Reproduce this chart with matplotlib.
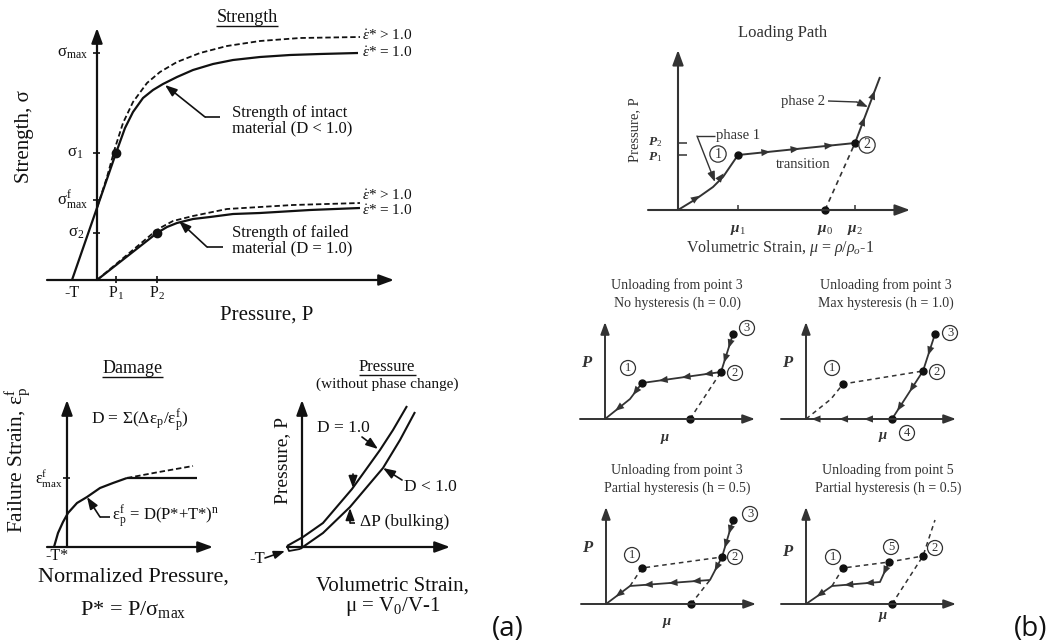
import matplotlib
matplotlib.use("Agg")
import matplotlib.pyplot as plt

plt.rcParams['font.family'] = ['Liberation Serif', 'DejaVu Serif']
plt.rcParams['mathtext.fontset'] = 'custom'
plt.rcParams['mathtext.rm'] = 'Liberation Serif'
plt.rcParams['mathtext.it'] = 'Liberation Serif:italic'
plt.rcParams['mathtext.bf'] = 'Liberation Serif:bold'

W, H = 1056, 644
K = '#111111'
G = '#333333'

# ---------------- data (schematic values) ----------------
# Strength panel
str_T = 25
str_P1, str_P2 = 19, 60
str_sig_max, str_sig1, str_sig_fmax, str_sig2 = 227, 127, 80, 47
intact_P = [-25, 19, 28, 36, 46, 56, 66, 80, 96, 116, 136, 163, 193, 223, 261]
intact_sig = [0, 127, 152, 168, 182, 190, 196, 203, 210, 216, 220, 223, 225, 226, 227]
intact_fast_P = [0, 10, 18, 26, 36, 50, 63, 80, 103, 130, 163, 203, 263]
intact_fast_sig = [72, 103, 132, 157, 178, 197, 208, 218, 227, 234, 239, 242, 243]
failed_P = [0, 60, 70, 80, 96, 113, 136, 163, 213, 263]
failed_sig = [0, 47, 53, 57, 61, 63, 66, 67, 70, 72]
failed_fast_P = [0, 55, 63, 76, 96, 130, 163, 196, 263]
failed_fast_sig = [0, 46, 52, 59, 64, 71, 73, 75, 77]

# Damage panel
dmg_T = 13
dmg_eps_max = 69
dmg_P = [-13, -9, -4, 1, 10, 20, 33, 46, 60]
dmg_eps = [0, 14, 25, 34, 44, 50, 59, 64, 69]
dmg_flat_P = [60, 130]
dmg_fast_P = [60, 92, 126]
dmg_fast_eps = [69, 75, 81]

# Pressure (EOS) panel
eos_D1_mu = [-15, 1, 21, 50, 78, 91, 105]
eos_D1_P = [1, 10, 24, 58, 97, 117, 141]
eos_Dlt1_mu = [-2, 21, 48, 81, 98, 113]
eos_Dlt1_P = [-2, 14, 40, 79, 107, 135]

# Loading path panel
lp_phase1_mu = [0, 18, 35, 45, 60]
lp_phase1_P = [0, 11, 23, 33, 55]
lp_mu1, lp_mu0, lp_mu2 = 60, 147, 177
lp_P1, lp_P2 = 55, 67
lp_top = (202, 133)

# Unloading panels: points (mu, P)
tl_pts = {'1': (37, 36), '2': (116, 47), '3': (128, 85), 'mu0': (85, 0), 'bend': (25, 20)}
tr_pts = {'1': (37, 35), '2': (117, 48), '3': (129, 85), '4': (86, 0), 'bend': (25, 20)}
bl_pts = {'1': (36, 36), '2': (116, 47), '3': (127, 84), 'mu0': (85, 0), 'a': (104, 24), 'b': (24, 18)}
br_pts = {'1': (37, 36), '5': (83, 42), '2': (117, 48), 'mu0': (86, 0), 'top': (129, 84),
          'a': (74, 22), 'b': (26, 18)}

fig = plt.figure(figsize=(W / 100, H / 100), dpi=100)


def panel(ox, oy, left, right, down, up):
    ax = fig.add_axes([(ox - left) / W, (H - oy - down) / H, (left + right) / W, (down + up) / H])
    ax.set_xlim(-left, right)
    ax.set_ylim(-down, up)
    ax.axis('off')
    return ax


def line(ax, xs, ys, lw=1.5, ls='-', c=K):
    ax.plot(xs, ys, color=c, lw=lw, ls=ls, clip_on=False, solid_capstyle='butt',
            solid_joinstyle='round')


def seg(ax, a, b, **kw):
    line(ax, [a[0], b[0]], [a[1], b[1]], **kw)


def arrow(ax, start, end, lw=1.5, c=K, hl=0.6, hw=0.22, ms=15):
    ax.annotate('', xy=end, xytext=start,
                arrowprops=dict(arrowstyle=f'-|>,head_length={hl},head_width={hw}', lw=lw,
                                color=c, mutation_scale=ms, shrinkA=0, shrinkB=0),
                annotation_clip=False)


def heads(ax, a, b, fracs, c=G, ms=8):
    dx, dy = b[0] - a[0], b[1] - a[1]
    n = (dx * dx + dy * dy) ** 0.5
    ux, uy = dx / n, dy / n
    for f in fracs:
        x, y = a[0] + dx * f, a[1] + dy * f
        ax.annotate('', xy=(x + ux * 3, y + uy * 3), xytext=(x - ux * 3, y - uy * 3),
                    arrowprops=dict(arrowstyle='-|>,head_length=0.8,head_width=0.32', lw=0.01,
                                    color=c, mutation_scale=ms, shrinkA=0, shrinkB=0),
                    annotation_clip=False)


def circ(ax, xy, s, fs=9, c=G):
    ax.text(xy[0], xy[1], s, ha='center', va='center', fontsize=fs, color=c,
            bbox=dict(boxstyle='circle,pad=0.12', fc='white', ec=c, lw=0.9))


def dot(ax, xy, c=K, ms=5):
    ax.plot([xy[0]], [xy[1]], 'o', ms=ms, color=c, clip_on=False)


# ============================ (a) Strength ============================
ax = panel(97, 280, 97, 420, 50, 280)
arrow(ax, (0, 0), (0, 252), lw=1.6)
arrow(ax, (-50, 0), (297, 0), lw=1.6)
for s in [str_sig_max, str_sig1, str_sig_fmax, str_sig2]:
    line(ax, [-4, 3], [s, s], lw=1.2)
for p in [str_P1, str_P2]:
    line(ax, [p, p], [-3, 4], lw=1.2)
line(ax, intact_P, intact_sig, lw=1.6)
line(ax, intact_fast_P, intact_fast_sig, lw=1.3, ls=(0, (3, 1.6)))
line(ax, failed_P, failed_sig, lw=1.6)
line(ax, failed_fast_P, failed_fast_sig, lw=1.3, ls=(0, (3, 1.6)))
dot(ax, (str_P1, str_sig1), ms=6)
dot(ax, (str_P2, str_sig2), ms=6)
ax.text(-9, str_sig_max, r'σ$_{\rm max}$', ha='right', va='center', fontsize=12, color=K)
ax.text(-14, str_sig1, r'σ$_1$', ha='right', va='center', fontsize=12, color=K)
ax.text(-9, str_sig_fmax, r'σ$^{\rm f}_{\rm max}$', ha='right', va='center', fontsize=12, color=K)
ax.text(-13, str_sig2, r'σ$_2$', ha='right', va='center', fontsize=12, color=K)
ax.text(-str_T, -13, '-T', ha='center', va='center', fontsize=11.5, color=K)
ax.text(str_P1, -13, r'P$_1$', ha='center', va='center', fontsize=11.5, color=K)
ax.text(str_P2, -13, r'P$_2$', ha='center', va='center', fontsize=11.5, color=K)
for y, s in [(244, '>'), (227, '='), (84, '>'), (69, '=')]:
    ax.text(265, y, r'$\dot{\varepsilon}$* ' + s + ' 1.0', ha='left', va='center', fontsize=11, color=K)
ax.text(150, 262, 'Strength', ha='center', va='center', fontsize=13, color=K)
line(ax, [119, 181], [254, 254], lw=1.0)
ax.text(-73, 143, 'Strength, σ', rotation=90, ha='center', va='center', fontsize=15, color=K)
ax.text(170, -35, 'Pressure, P', ha='center', va='center', fontsize=15, color=K)
ax.text(135, 167, 'Strength of intact', ha='left', va='center', fontsize=12, color=K)
ax.text(135, 152, 'material (D < 1.0)', ha='left', va='center', fontsize=12, color=K)
line(ax, [123, 108], [163, 163], lw=1.2)
arrow(ax, (108, 163), (68, 195), lw=1.2, ms=12)
ax.text(135, 47, 'Strength of failed', ha='left', va='center', fontsize=12, color=K)
ax.text(135, 32, 'material (D = 1.0)', ha='left', va='center', fontsize=12, color=K)
line(ax, [126, 110], [33, 33], lw=1.2)
arrow(ax, (110, 33), (82, 59), lw=1.2, ms=12)

# ============================ (a) Damage ============================
ax = panel(67, 547, 67, 190, 97, 150)
arrow(ax, (0, 0), (0, 147), lw=1.6)
arrow(ax, (-20, 0), (146, 0), lw=1.6)
line(ax, [-4, 3], [dmg_eps_max, dmg_eps_max], lw=1.2)
line(ax, dmg_P, dmg_eps, lw=1.6)
line(ax, dmg_flat_P, [dmg_eps_max, dmg_eps_max], lw=1.6)
line(ax, dmg_fast_P, dmg_fast_eps, lw=1.3, ls=(0, (3, 1.6)))
ax.text(-4, dmg_eps_max, r'ε$^{\rm f}_{\rm max}$', ha='right', va='center', fontsize=11.5, color=K)
ax.text(73, 127, r'D = Σ(Δε$_{\rm p}$/ε$_{\rm p}^{\rm f}$)', ha='center', va='center', fontsize=12.5, color=K)
ax.text(45, 31, r'ε$_{\rm p}^{\rm f}$ = D(P*+T*)$^{\rm n}$', ha='left', va='center', fontsize=12, color=K)
line(ax, [43, 33], [30, 30], lw=1.2)
arrow(ax, (33, 30), (20, 50), lw=1.2, ms=12)
ax.text(-dmg_T + 3, -1, '-T*', ha='center', va='top', fontsize=11.5, color=K)
ax.text(66, 179, 'Damage', ha='center', va='center', fontsize=13, color=K)
line(ax, [35, 96], [170, 170], lw=1.0)
ax.text(-49, 87, r'Failure Strain, ε$_{\rm p}^{\rm f}$', rotation=90, ha='center', va='center',
        fontsize=15.5, color=K)
ax.text(66, -30, 'Normalized Pressure,', ha='center', va='center', fontsize=16, color=K)
ax.text(66, -63, r'P* = P/σ$_{\rm max}$', ha='center', va='center', fontsize=16, color=K)

# ============================ (a) Pressure ============================
ax = panel(302, 547, 60, 200, 97, 200)
arrow(ax, (0, 0), (0, 147), lw=1.6)
arrow(ax, (-15, 0), (148, 0), lw=1.6)
line(ax, eos_D1_mu, eos_D1_P, lw=1.5)
line(ax, eos_Dlt1_mu, eos_Dlt1_P, lw=1.5)
line(ax, [eos_D1_mu[0], -13, eos_Dlt1_mu[0]], [eos_D1_P[0], -4, eos_Dlt1_P[0]], lw=1.3)
ax.text(85, 180, 'Pressure', ha='center', va='center', fontsize=12, color=K)
line(ax, [57, 114], [172, 172], lw=1.0)
ax.text(85, 163, '(without phase change)', ha='center', va='center', fontsize=11, color=K)
ax.text(41, 119, 'D = 1.0', ha='center', va='center', fontsize=12.5, color=K)
arrow(ax, (60, 110), (76, 98), lw=1.2, ms=12)
ax.text(128, 60, 'D < 1.0', ha='center', va='center', fontsize=12.5, color=K)
arrow(ax, (100, 67), (81, 79), lw=1.2, ms=12)
arrow(ax, (51, 73), (51, 59), lw=1.2, ms=12)
arrow(ax, (48, 24), (48, 39), lw=1.2, ms=12)
line(ax, [48, 53], [24, 24], lw=1.2)
ax.text(58, 25, 'ΔP (bulking)', ha='left', va='center', fontsize=12.5, color=K)
ax.text(-45, -12, '-T', ha='center', va='center', fontsize=12, color=K)
arrow(ax, (-37, -11), (-17, -4), lw=1.2, ms=11)
ax.text(-19, 87, 'Pressure, P', rotation=90, ha='center', va='center', fontsize=14, color=K)
ax.text(91, -39, 'Volumetric Strain,', ha='center', va='center', fontsize=15, color=K)
ax.text(91, -60, r'μ = V$_0$/V-1', ha='center', va='center', fontsize=15, color=K)

fig.text(508 / W, 1 - 629 / H, '(a)', ha='center', va='center', fontsize=20, family='Open Sans', color=K)
fig.text(1031 / W, 1 - 629 / H, '(b)', ha='center', va='center', fontsize=20, family='Open Sans', color=K)

# ============================ (b) Loading path ============================
ax = panel(678, 210, 90, 260, 50, 200)
arrow(ax, (0, 0), (0, 160), lw=1.5, c=G)
arrow(ax, (-30, 0), (232, 0), lw=1.5, c=G)
pt1 = (lp_mu1, lp_P1)
pt2 = (lp_mu2, lp_P2)
line(ax, lp_phase1_mu, lp_phase1_P, lw=1.4, c=G)
seg(ax, pt1, pt2, lw=1.4, c=G)
seg(ax, pt2, lp_top, lw=1.4, c=G)
seg(ax, (lp_mu0, 0), pt2, lw=1.2, c=G, ls=(0, (3, 2.5)))
for p in [pt1, pt2, (lp_mu0, 0)]:
    dot(ax, p, c=K, ms=5)
for v in [lp_P1, lp_P2]:
    line(ax, [0, 9], [v, v], lw=1.1, c=G)
for v in [lp_mu1, lp_mu2]:
    line(ax, [v, v], [0, 5], lw=1.1, c=G)
heads(ax, (0, 0), (35, 23), [0.55])
heads(ax, (35, 23), (60, 55), [0.35])
heads(ax, pt1, pt2, [0.25, 0.5, 0.79])
heads(ax, pt2, lp_top, [0.35, 0.75])
circ(ax, (40, 56), '1', fs=10)
circ(ax, (189, 65), '2', fs=10)
ax.text(-23, lp_P2 + 1, r'P$_{2}$', ha='center', va='center', fontsize=9.5, color=G,
        fontweight='bold', fontstyle='italic')
ax.text(-23, lp_P1 - 2, r'P$_{1}$', ha='center', va='center', fontsize=9.5, color=G,
        fontweight='bold', fontstyle='italic')
for v, s in [(lp_mu1, '1'), (lp_mu0, '0'), (lp_mu2, '2')]:
    ax.text(v, -20, 'μ$_{' + s + '}$', ha='center', va='center', fontsize=11, color=G,
            fontweight='bold', fontstyle='italic')
ax.text(38, 75, 'phase 1', ha='left', va='center', fontsize=10.5, color=G)
line(ax, [37, 19], [74, 74], lw=1.0, c=G)
arrow(ax, (19, 74), (37, 28), lw=1.0, c=G, ms=10)
ax.text(125, 108, 'phase 2', ha='center', va='center', fontsize=10.5, color=G)
line(ax, [150, 179], [109, 108], lw=1.0, c=G)
arrow(ax, (179, 108), (190, 103), lw=1.0, c=G, ms=10)
ax.text(125, 45, 'transition', ha='center', va='center', fontsize=10.5, color=G)
ax.text(105, 177, 'Loading Path', ha='center', va='center', fontsize=12, color=G)
ax.text(102, -38, r'Volumetric Strain, $\mu$ = $\rho/\rho_o$-1', ha='center', va='center',
        fontsize=11.5, color=G)
ax.text(-43, 80, 'Pressure, P', rotation=90, ha='center', va='center', fontsize=10.5, color=G)


# ============================ (b) Unloading panels ============================
def small_frame(ax, title1, title2, tx, plabel_y=56, mux=60, muy=-18):
    arrow(ax, (0, 0), (0, 97), lw=1.4, c=G, ms=12)
    arrow(ax, (-25, 0), (150, 0), lw=1.4, c=G, ms=12)
    ax.text(tx, 134, title1, ha='center', va='center', fontsize=10, color=G)
    ax.text(tx, 116, title2, ha='center', va='center', fontsize=10, color=G)
    ax.text(-19, plabel_y, 'P', ha='center', va='center', fontsize=12, color=G,
            fontweight='bold', fontstyle='italic')
    ax.text(mux, muy, 'μ', ha='center', va='center', fontsize=10.5, color=G,
            fontweight='bold', fontstyle='italic')


DASH = (0, (3, 2.5))
O = (0, 0)

# Top-left: no hysteresis
ax = panel(605, 419, 30, 170, 30, 150)
p = tl_pts
small_frame(ax, 'Unloading from point 3', 'No hysteresis (h = 0.0)', 72, mux=60, muy=-19)
line(ax, [p['3'][0], p['2'][0], p['1'][0], p['bend'][0], 0],
     [p['3'][1], p['2'][1], p['1'][1], p['bend'][1], 0], lw=1.3, c=G)
seg(ax, p['mu0'], p['2'], lw=1.1, c=G, ls=DASH)
heads(ax, p['3'], p['2'], [0.3, 0.68])
heads(ax, p['2'], p['1'], [0.18, 0.46, 0.75])
heads(ax, p['1'], p['bend'], [0.6])
heads(ax, p['bend'], O, [0.5])
for k in ['1', '2', '3', 'mu0']:
    dot(ax, p[k], c=K, ms=5)
circ(ax, (23, 51), '1')
circ(ax, (130, 46), '2')
circ(ax, (142, 91), '3')

# Top-right: max hysteresis
ax = panel(806, 419, 30, 170, 30, 150)
p = tr_pts
small_frame(ax, 'Unloading from point 3', 'Max hysteresis (h = 1.0)', 80, mux=77, muy=-16)
line(ax, [0, p['bend'][0], p['1'][0], p['2'][0]], [0, p['bend'][1], p['1'][1], p['2'][1]],
     lw=1.1, c=G, ls=DASH)
line(ax, [p['3'][0], p['2'][0], p['4'][0]], [p['3'][1], p['2'][1], p['4'][1]], lw=1.3, c=G)
heads(ax, p['3'], p['2'], [0.5])
heads(ax, p['2'], p['4'], [0.38, 0.78])
heads(ax, p['4'], O, [0.29, 0.58, 0.9])
for k in ['1', '2', '3', '4']:
    dot(ax, p[k], c=K, ms=5)
circ(ax, (26, 51), '1')
circ(ax, (131, 47), '2')
circ(ax, (144, 86), '3')
circ(ax, (101, -14), '4')

# Bottom-left: partial hysteresis from point 3
ax = panel(606, 604, 30, 170, 30, 150)
p = bl_pts
small_frame(ax, 'Unloading from point 3', 'Partial hysteresis (h = 0.5)', 71, mux=61, muy=-18)
line(ax, [p['3'][0], p['2'][0], p['a'][0], p['b'][0], 0],
     [p['3'][1], p['2'][1], p['a'][1], p['b'][1], 0], lw=1.3, c=G)
line(ax, [p['b'][0], p['1'][0], p['2'][0]], [p['b'][1], p['1'][1], p['2'][1]], lw=1.1, c=G, ls=DASH)
seg(ax, p['mu0'], p['a'], lw=1.1, c=G, ls=DASH)
heads(ax, p['3'], p['2'], [0.3, 0.68])
heads(ax, p['2'], p['a'], [0.5])
heads(ax, p['a'], p['b'], [0.19, 0.48, 0.79])
heads(ax, p['b'], O, [0.5])
for k in ['1', '2', '3', 'mu0']:
    dot(ax, p[k], c=K, ms=5)
circ(ax, (26, 49), '1')
circ(ax, (129, 47), '2')
circ(ax, (144, 90), '3')

# Bottom-right: partial hysteresis from point 5
ax = panel(806, 604, 30, 170, 30, 150)
p = br_pts
small_frame(ax, 'Unloading from point 5', 'Partial hysteresis (h = 0.5)', 82, plabel_y=52, mux=77, muy=-11)
line(ax, [p['5'][0], p['a'][0], p['b'][0], 0], [p['5'][1], p['a'][1], p['b'][1], 0], lw=1.3, c=G)
line(ax, [p['b'][0], p['1'][0], p['5'][0], p['2'][0]], [p['b'][1], p['1'][1], p['5'][1], p['2'][1]],
     lw=1.1, c=G, ls=DASH)
line(ax, [p['mu0'][0], p['2'][0], p['top'][0]], [p['mu0'][1], p['2'][1], p['top'][1]],
     lw=1.1, c=G, ls=DASH)
heads(ax, p['5'], p['a'], [0.5])
heads(ax, p['a'], p['b'], [0.25, 0.68])
heads(ax, p['b'], O, [0.5])
for k in ['1', '5', '2', 'mu0']:
    dot(ax, p[k], c=K, ms=5)
circ(ax, (27, 47), '1')
circ(ax, (85, 57), '5')
circ(ax, (129, 56), '2')

fig.savefig('out.png', dpi=100)
